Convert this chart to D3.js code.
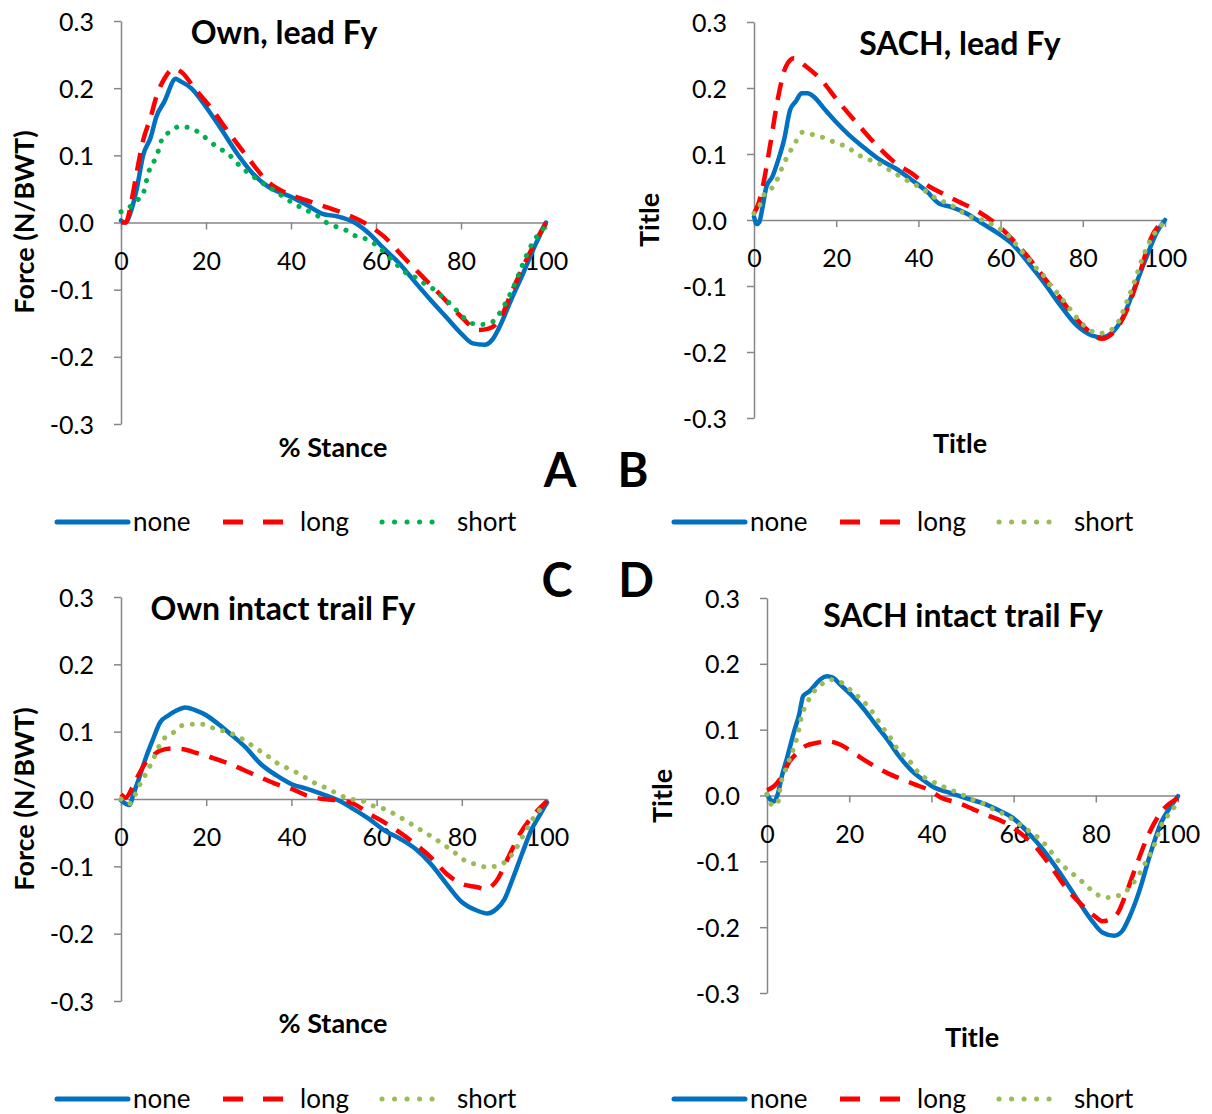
<!DOCTYPE html>
<html><head><meta charset="utf-8">
<script src="https://cdn.jsdelivr.net/npm/d3@7"></script>
<style>body{margin:0;background:#fff}</style>
</head><body>
<svg id="c" width="1212" height="1114" xmlns="http://www.w3.org/2000/svg"></svg>
<script>
// ---------- data ----------
const seriesNames = ["none", "long", "short"];
const xTicks = [0, 20, 40, 60, 80, 100];
const yTicks = [-0.3, -0.2, -0.1, 0, 0.1, 0.2, 0.3];
const panelTitles = ["Own, lead Fy", "SACH, lead Fy", "Own intact trail Fy", "SACH intact trail Fy"];
const xTitles = ["% Stance", "Title", "% Stance", "Title"];
const yTitles = ["Force (N/BWT)", "Title", "Force (N/BWT)", "Title"];
const panelLetters = ["A", "B", "C", "D"];

// Panel A: Own, lead
const ownLeadNone = [[0,0.003],[1,0],[2.5,0.02],[3.8,0.053],[5.2,0.10],[7,0.127],[8.3,0.157],[10.2,0.18],[12.9,0.214],[13.8,0.211],[16.5,0.20],[20,0.172],[23.8,0.137],[27.4,0.102],[31,0.073],[34.7,0.053],[40.1,0.038],[43.7,0.026],[47.4,0.013],[51,0.009],[54.6,0.001],[58.3,-0.016],[61.9,-0.039],[65.5,-0.061],[69.1,-0.088],[72.8,-0.115],[76.4,-0.140],[80,-0.165],[82.8,-0.180],[85.5,-0.182],[87.3,-0.175],[89.1,-0.155],[91.8,-0.115],[94.6,-0.076],[97.3,-0.036],[100,0]];
const ownLeadLong = [[0,0],[1.1,0],[2.5,0.033],[3.8,0.078],[5.2,0.122],[7,0.157],[8.3,0.187],[10.2,0.214],[12.4,0.229],[14.2,0.224],[17.4,0.199],[21,0.172],[25.6,0.132],[29.2,0.102],[34.7,0.060],[39.2,0.043],[43.7,0.033],[48.3,0.023],[52.8,0.013],[57.4,-0.001],[61.9,-0.021],[66.4,-0.051],[71,-0.081],[75.5,-0.110],[80,-0.140],[84.1,-0.160],[86.5,-0.158],[89.1,-0.145],[91.8,-0.105],[94.6,-0.066],[97.3,-0.031],[100,0]];
const ownLeadShort = [[0,0.016],[2,0.023],[3.8,0.033],[5.2,0.043],[6.5,0.075],[7.9,0.093],[8.8,0.107],[9.7,0.125],[11.5,0.135],[13.8,0.143],[16.5,0.140],[18.8,0.132],[21,0.12],[23.3,0.11],[25.6,0.10],[27.4,0.088],[29.7,0.075],[31.9,0.065],[34.2,0.055],[36.5,0.046],[38.7,0.036],[41,0.027],[43.7,0.018],[46,0.011],[48.3,0],[50.5,-0.006],[52.8,-0.011],[55.5,-0.021],[58.3,-0.026],[61,-0.039],[64.6,-0.061],[67.3,-0.076],[69.1,-0.081],[71.4,-0.091],[73.7,-0.100],[75.5,-0.110],[77.8,-0.123],[79.6,-0.135],[81.9,-0.148],[84.1,-0.152],[86.8,-0.150],[89.1,-0.135],[90.5,-0.12],[92.7,-0.091],[94.6,-0.061],[96.8,-0.031],[99.1,-0.011],[100,-0.005]];

// Panel B: SACH, lead
const sachLeadNone = [[0,0.005],[0.7,-0.006],[1.3,-0.003],[2.1,0.02],[3,0.05],[4.5,0.066],[5.9,0.091],[7.3,0.121],[8.8,0.167],[10.2,0.18],[11.6,0.192],[13,0.192],[14.5,0.187],[17.3,0.167],[20.2,0.147],[23.1,0.129],[26.9,0.109],[30.7,0.091],[34.5,0.078],[38.3,0.061],[42.1,0.043],[45,0.025],[47.9,0.020],[51.7,0.010],[55.5,-0.005],[59.3,-0.02],[63.1,-0.038],[66.9,-0.066],[70.7,-0.096],[74.5,-0.129],[78.4,-0.159],[82.2,-0.175],[84.6,-0.178],[86.9,-0.172],[89.8,-0.147],[92.7,-0.101],[95.5,-0.056],[97.9,-0.020],[100,0]];
const sachLeadLong = [[0,0.01],[1.1,0.025],[2.1,0.05],[4,0.116],[5.9,0.187],[7.8,0.233],[9.7,0.245],[12.6,0.233],[16.4,0.212],[20.2,0.182],[25,0.147],[29.7,0.114],[34.5,0.086],[38.3,0.071],[42.1,0.053],[45.9,0.040],[49.7,0.028],[54.5,0.013],[58.3,-0.003],[62.2,-0.025],[66,-0.051],[69.8,-0.081],[73.6,-0.111],[77.4,-0.142],[81.2,-0.167],[84.6,-0.180],[87.9,-0.167],[90.7,-0.137],[93.6,-0.086],[96.4,-0.03],[100,0]];
const sachLeadShort = [[0,0.01],[1.6,0.025],[2.6,0.04],[4,0.046],[5.4,0.058],[6.4,0.073],[7.3,0.086],[8.8,0.104],[10.2,0.119],[11.8,0.133],[14.5,0.129],[17.3,0.124],[20.2,0.116],[22.6,0.111],[25,0.100],[27.8,0.092],[30.2,0.086],[32.6,0.077],[35,0.068],[37.8,0.058],[40.2,0.050],[42.6,0.04],[45,0.03],[47.4,0.025],[49.8,0.015],[52.6,0.005],[55.5,0],[58.3,-0.008],[60.2,-0.015],[62.2,-0.025],[64.5,-0.043],[66.4,-0.056],[68.4,-0.071],[70.3,-0.083],[71.7,-0.096],[73.6,-0.109],[75.5,-0.124],[77.4,-0.139],[79.3,-0.154],[81.2,-0.164],[83.6,-0.172],[86,-0.169],[88.4,-0.157],[90.7,-0.124],[92.7,-0.091],[94.6,-0.056],[96.5,-0.030],[99.6,-0.005]];

// Panel C: Own intact trail
const ownTrailNone = [[0,-0.002],[1.1,-0.007],[2,-0.009],[2.9,0.007],[4.3,0.032],[5.6,0.057],[7.4,0.087],[9.2,0.114],[11.1,0.124],[12.9,0.131],[15.1,0.136],[17.4,0.132],[20.1,0.124],[22.9,0.111],[25.6,0.097],[29.2,0.077],[32.8,0.052],[36.5,0.035],[40.1,0.022],[43.7,0.015],[47.4,0.007],[51,-0.002],[54.6,-0.015],[58.3,-0.030],[61.9,-0.047],[65.5,-0.059],[69.1,-0.074],[72.8,-0.097],[76.4,-0.126],[80,-0.153],[83.7,-0.166],[86,-0.170],[88.2,-0.163],[90,-0.149],[91.8,-0.121],[94.1,-0.082],[96.4,-0.045],[98.2,-0.025],[100,-0.005]];
const ownTrailLong = [[0,0.007],[1.1,0.002],[2.5,0.015],[3.8,0.032],[5.6,0.052],[7.4,0.064],[9.2,0.072],[12,0.075],[14.7,0.074],[17.4,0.069],[21,0.062],[25.6,0.052],[29.2,0.042],[32.8,0.032],[36.5,0.022],[40.1,0.015],[43.7,0.005],[47.4,0],[51,-0.002],[54.6,-0.007],[58.3,-0.022],[61.9,-0.035],[65.5,-0.050],[69.1,-0.067],[72.8,-0.087],[76.4,-0.111],[80,-0.126],[83.7,-0.131],[85.5,-0.134],[88.2,-0.121],[90.9,-0.087],[93.6,-0.052],[96.4,-0.027],[100,-0.003]];
const ownTrailShort = [[0,0],[2,-0.007],[3.4,0.007],[4.7,0.025],[6.1,0.040],[7.4,0.057],[9.7,0.087],[12,0.097],[14.3,0.109],[17,0.111],[19.7,0.111],[22,0.104],[24.7,0.100],[27.4,0.093],[29.7,0.084],[32,0.074],[34.2,0.065],[36.5,0.054],[38.7,0.047],[41,0.040],[43.7,0.030],[46,0.022],[48.7,0.015],[51,0.007],[53.7,0],[56.4,-0.002],[59.1,-0.010],[61.9,-0.015],[64.1,-0.022],[66.8,-0.032],[69.1,-0.041],[71.4,-0.050],[73.7,-0.059],[76,-0.069],[78.2,-0.079],[80.9,-0.092],[83.2,-0.097],[85.9,-0.101],[88.6,-0.099],[90.9,-0.089],[92.7,-0.074],[94.6,-0.052],[96.4,-0.032],[98.2,-0.017],[100,-0.007]];

// Panel D: SACH intact trail
const sachTrailNone = [[0,0.002],[0.8,-0.006],[1.7,-0.009],[2.7,0.004],[3.6,0.029],[5,0.06],[6.5,0.095],[7.9,0.125],[8.8,0.151],[10.3,0.158],[11.7,0.168],[13.1,0.177],[14.6,0.181],[16,0.179],[17.9,0.168],[20.8,0.151],[23.6,0.131],[26.4,0.108],[29.3,0.085],[32.1,0.060],[35,0.039],[37.9,0.024],[40.7,0.012],[44.5,0.004],[48.3,-0.004],[52.1,-0.011],[55.9,-0.021],[59.8,-0.034],[63.6,-0.057],[67.4,-0.084],[71.2,-0.117],[75,-0.153],[78.8,-0.188],[81.6,-0.208],[84.5,-0.213],[86.4,-0.206],[88.3,-0.183],[90.7,-0.143],[93.1,-0.092],[95.9,-0.041],[98.3,-0.016],[100,-0.001]];
const sachTrailLong = [[0,0.008],[1.7,0.014],[3.6,0.029],[5.5,0.052],[7.4,0.065],[9.3,0.075],[12.2,0.080],[15,0.082],[17.9,0.077],[21.7,0.062],[25.5,0.047],[29.3,0.034],[33.1,0.024],[35.9,0.017],[39.8,0.007],[42.6,-0.004],[46.4,-0.011],[50.2,-0.021],[54,-0.031],[57.8,-0.041],[61.6,-0.057],[65.5,-0.079],[69.3,-0.110],[73.1,-0.143],[76.9,-0.168],[79.7,-0.183],[81.6,-0.191],[83.5,-0.188],[85.4,-0.178],[87.3,-0.150],[90.1,-0.102],[93,-0.057],[95.8,-0.026],[100,-0.004]];
const sachTrailShort = [[0,0.002],[1.2,-0.014],[2.5,-0.014],[3.4,0.019],[4.4,0.037],[5.5,0.055],[6.5,0.072],[7.4,0.09],[8.4,0.120],[9.8,0.141],[11.2,0.156],[13.1,0.168],[15.5,0.176],[18.3,0.171],[20.7,0.158],[22.6,0.148],[24.5,0.136],[26.4,0.120],[27.9,0.105],[29.8,0.090],[31.2,0.075],[33.1,0.062],[35,0.050],[36.9,0.034],[39.3,0.024],[41.7,0.017],[44.1,0.010],[46.9,0.003],[49.8,-0.006],[52.1,-0.011],[54.5,-0.019],[56.9,-0.026],[59.7,-0.036],[62.1,-0.047],[64.5,-0.057],[66.9,-0.069],[69.3,-0.087],[71.2,-0.102],[73.6,-0.115],[76,-0.127],[77.9,-0.138],[79.8,-0.148],[82.2,-0.155],[85,-0.153],[87.4,-0.145],[89.8,-0.127],[91.7,-0.107],[94.1,-0.077],[96.3,-0.041],[98.8,-0.021],[100,-0.006]];

const panelSeries = [
  [ownLeadNone, ownLeadLong, ownLeadShort],
  [sachLeadNone, sachLeadLong, sachLeadShort],
  [ownTrailNone, ownTrailLong, ownTrailShort],
  [sachTrailNone, sachTrailLong, sachTrailShort]
];

// ---------- layout & style ----------
const FONT = "Lato, 'Open Sans', 'Liberation Sans', sans-serif";
const AXIS = "#868686";
const BLUE = "#0070C0", RED = "#FF0000", GREEN = "#00B050", OLIVE = "#9BBB59";
const shortColors = [GREEN, OLIVE, OLIVE, OLIVE];
const lineStyles = [
  {color: BLUE, dash: null, cap: "round"},
  {color: RED, dash: "18,11", cap: "butt"},
  {color: null, dash: "0.1,10.5", cap: "round"}
];
const boxes = [
  {l: 121, r: 546, t: 21, b: 424, title: [284, 44], xt: [333, 457], yt: [24, 222], letter: [560, 487]},
  {l: 754, r: 1165, t: 22, b: 418, title: [960, 55], xt: [960, 453], yt: [649, 220], letter: [633, 487]},
  {l: 121, r: 547, t: 597, b: 1001, title: [283, 620], xt: [333, 1033], yt: [24, 799], letter: [557, 597]},
  {l: 767, r: 1178, t: 598, b: 993, title: [963, 627], xt: [972, 1047], yt: [662, 796], letter: [636, 597]}
];
const legends = [
  {y: 522, x0: 57, green: GREEN},
  {y: 522, x0: 674, green: OLIVE},
  {y: 1099, x0: 57, green: OLIVE},
  {y: 1099, x0: 674, green: OLIVE}
];

const svg = d3.select("#c").style("font-family", FONT);
svg.append("rect").attr("width", 1212).attr("height", 1114).attr("fill", "#fff");

boxes.forEach((p, i) => {
  const x = d3.scaleLinear().domain([0, 100]).range([p.l, p.r]);
  const y = d3.scaleLinear().domain([-0.3, 0.3]).range([p.b, p.t]);
  const g = svg.append("g");

  // y axis
  const ya = g.append("g").attr("transform", `translate(${p.l},0)`)
    .call(d3.axisLeft(y).tickValues(yTicks).tickSize(7).tickSizeOuter(0).tickFormat(d => d.toFixed(1)));
  ya.select(".domain").attr("stroke", AXIS).attr("stroke-width", 1.5);
  ya.selectAll(".tick line").attr("stroke", AXIS).attr("stroke-width", 1.5);
  ya.selectAll(".tick text").attr("x", -27).attr("dy", "0.36em")
    .attr("fill", "#000").style("font-size", "25px").style("font-family", FONT);

  // x axis at zero
  const xa = g.append("g").attr("transform", `translate(0,${y(0)})`)
    .call(d3.axisBottom(x).tickValues(xTicks).tickSize(7).tickSizeOuter(0).tickFormat(d3.format("d")));
  xa.select(".domain").attr("stroke", AXIS).attr("stroke-width", 1.5);
  xa.selectAll(".tick line").attr("stroke", AXIS).attr("stroke-width", 1.5);
  xa.selectAll(".tick text").attr("y", 47).attr("dy", null)
    .attr("fill", "#000").style("font-size", "25px").style("font-family", FONT);

  // lines
  const line = d3.line().x(d => x(d[0])).y(d => y(d[1])).curve(d3.curveMonotoneX);
  panelSeries[i].forEach((s, k) => {
    const st = lineStyles[k];
    g.append("path").datum(s).attr("d", line)
      .attr("fill", "none")
      .attr("stroke", k === 2 ? shortColors[i] : st.color)
      .attr("stroke-width", k === 2 ? 5 : 4.5)
      .attr("stroke-dasharray", st.dash)
      .attr("stroke-linecap", st.cap)
      .attr("stroke-linejoin", "round");
  });

  // titles
  g.append("text").attr("x", p.title[0]).attr("y", p.title[1]).attr("text-anchor", "middle")
    .style("font-size", "32px").style("font-weight", "bold").text(panelTitles[i]);
  g.append("text").attr("x", p.xt[0]).attr("y", p.xt[1]).attr("text-anchor", "middle")
    .style("font-size", "27px").style("font-weight", "bold").text(xTitles[i]);
  g.append("text").attr("transform", `translate(${p.yt[0]},${p.yt[1]}) rotate(-90)`)
    .attr("text-anchor", "middle").attr("dy", "0.36em")
    .style("font-size", "27px").style("font-weight", "bold").text(yTitles[i]);
  svg.append("text").attr("x", p.letter[0]).attr("y", p.letter[1]).attr("text-anchor", "middle")
    .style("font-size", "47px").style("font-weight", "bold").text(panelLetters[i]);
});

// legends
legends.forEach(L => {
  const g = svg.append("g");
  const items = [
    {name: seriesNames[0], color: BLUE, dash: null, cap: "round", sx: 0, sw: 71, tx: 76},
    {name: seriesNames[1], color: RED, dash: "20,20", cap: "butt", sx: 166, sw: 64, tx: 243},
    {name: seriesNames[2], color: L.green, dash: "0.1,12.4", cap: "round", sx: 325, sw: 62, tx: 400}
  ];
  items.forEach(it => {
    g.append("line").attr("x1", L.x0 + it.sx).attr("x2", L.x0 + it.sx + it.sw)
      .attr("y1", L.y).attr("y2", L.y)
      .attr("stroke", it.color).attr("stroke-width", 5)
      .attr("stroke-dasharray", it.dash).attr("stroke-linecap", it.cap);
    g.append("text").attr("x", L.x0 + it.tx).attr("y", L.y).attr("dy", "0.33em")
      .style("font-size", "26px").text(it.name);
  });
});
</script>
</body></html>
